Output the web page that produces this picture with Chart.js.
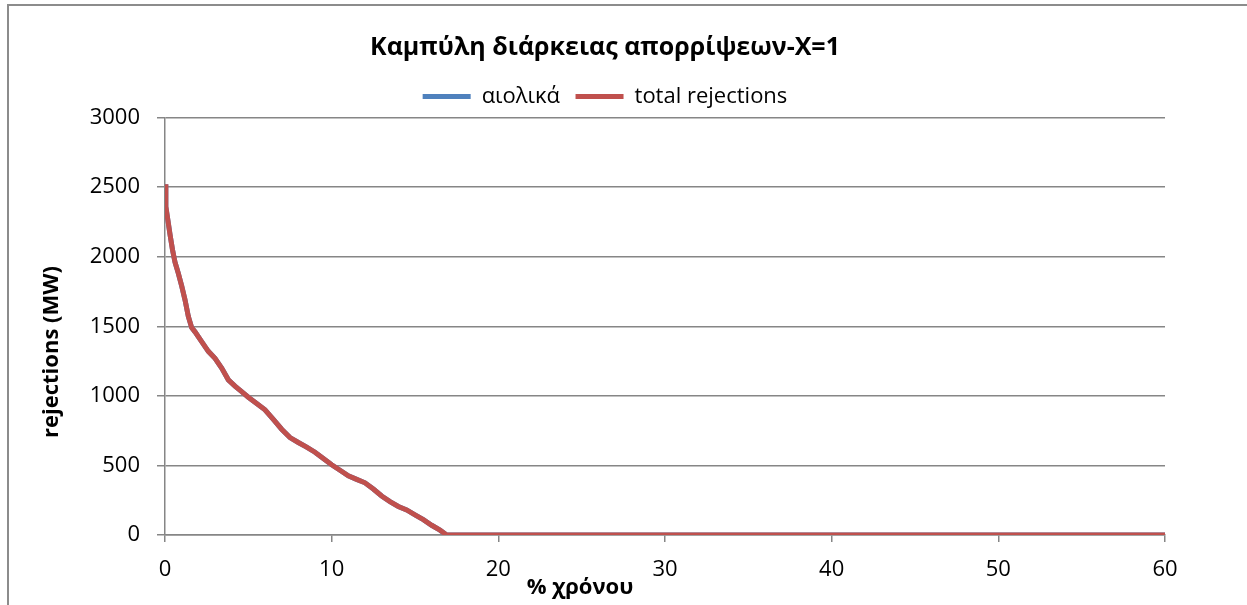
<!DOCTYPE html>
<html>
<head>
<meta charset="utf-8">
<script src="https://cdn.jsdelivr.net/npm/chart.js@4.4.1/dist/chart.umd.min.js"></script>
<style>
  html, body { margin: 0; padding: 0; background: #fff; overflow: hidden; }
  #wrap { position: relative; width: 1247px; height: 605px; }
</style>
</head>
<body>
<div id="wrap"><canvas id="curve" width="1247" height="605"></canvas></div>
<script>
// ----- Duration curve data (% of year vs. MW) -----
const pctTime = [
  0, 0.05, 0.15, 0.3, 0.45, 0.6, 0.8, 1.0, 1.2, 1.4, 1.6, 1.8, 2.2, 2.6, 3.0,
  3.4, 3.8, 4.2, 4.6, 5.0, 5.5, 6.0, 6.5, 7.0, 7.5, 8.0, 8.5, 9.0, 9.5, 10.0,
  10.5, 11.0, 11.5, 12.0, 12.5, 13.0, 13.5, 14.0, 14.5, 15.0, 15.5, 16.0, 16.5,
  16.9, 20, 30, 40, 50, 60
];
const windRejections = [
  2520, 2360, 2280, 2160, 2050, 1960, 1880, 1790, 1690, 1570, 1490, 1460, 1390, 1320, 1270,
  1200, 1115, 1070, 1030, 990, 945, 900, 830, 760, 700, 665, 632, 595, 550, 505,
  465, 425, 400, 375, 330, 280, 240, 205, 180, 145, 110, 70, 35,
  0, 0, 0, 0, 0, 0
];
const totalRejections = [
  2520, 2360, 2280, 2160, 2050, 1960, 1880, 1790, 1690, 1570, 1490, 1460, 1390, 1320, 1270,
  1200, 1115, 1070, 1030, 990, 945, 900, 830, 760, 700, 665, 632, 595, 550, 505,
  465, 425, 400, 375, 330, 280, 240, 205, 180, 145, 110, 70, 35,
  0, 0, 0, 0, 0, 0
];
const seriesNames = ['αιολικά', 'total rejections'];
const titleText = 'Καμπύλη διάρκειας απορρίψεων-X=1';
const xTitle = '% χρόνου';
const yTitle = 'rejections (MW)';

const FONT = "'Open Sans', 'DejaVu Sans', sans-serif";
const GRID = '#868686';

const toPoints = (ys) => ys.map((y, i) => ({ x: pctTime[i], y: y }));

// frame round the chart + hand placed axis titles
const decorations = {
  id: 'decorations',
  beforeDraw(chart) {
    const ctx = chart.ctx;
    ctx.save();
    ctx.strokeStyle = '#8c8c8c';
    ctx.lineWidth = 2;
    ctx.beginPath();
    ctx.moveTo(8, 605);
    ctx.lineTo(8, 5);
    ctx.lineTo(1247, 5);
    ctx.stroke();
    ctx.restore();
  },
  afterDraw(chart) {
    const ctx = chart.ctx;
    ctx.save();
    ctx.fillStyle = '#000';
    ctx.font = 'bold 22px ' + FONT;
    ctx.textAlign = 'center';
    ctx.textBaseline = 'middle';
    ctx.fillText(xTitle, 580, 588);
    ctx.translate(52, 352);
    ctx.rotate(-Math.PI / 2);
    ctx.fillText(yTitle, 0, 0);
    ctx.restore();
  }
};

const ctx = document.getElementById('curve').getContext('2d');
new Chart(ctx, {
  type: 'line',
  data: {
    datasets: [
      {
        label: seriesNames[0],
        data: toPoints(windRejections),
        borderColor: '#4F81BD',
        backgroundColor: '#4F81BD',
        borderWidth: 5,
        pointRadius: 0,
        tension: 0,
        order: 1
      },
      {
        // drawn last so it sits over the wind line
        label: seriesNames[1],
        data: toPoints(totalRejections),
        borderColor: '#C0504D',
        backgroundColor: '#C0504D',
        borderWidth: 5,
        pointRadius: 0,
        tension: 0,
        order: 0
      }
    ]
  },
  options: {
    responsive: false,
    animation: false,
    layout: { padding: { left: 45, right: 82, top: 33, bottom: 0 } },
    plugins: {
      title: {
        display: true,
        text: titleText,
        color: '#000',
        font: { family: FONT, size: 25, weight: 'bold' },
        padding: { top: 0, bottom: 7 }
      },
      legend: {
        display: true,
        labels: {
          color: '#000',
          font: { family: FONT, size: 22 },
          usePointStyle: true,
          pointStyle: 'line',
          pointStyleWidth: 48,
          boxHeight: 4,
          padding: 15.5,
          sort: (a, b) => a.datasetIndex - b.datasetIndex
        }
      },
      tooltip: { enabled: false }
    },
    scales: {
      x: {
        type: 'linear',
        min: 0,
        max: 60,
        afterFit: (scale) => { scale.height = 70; },
        ticks: {
          stepSize: 10,
          color: '#000',
          padding: 15,
          maxRotation: 0,
          font: { family: FONT, size: 22 },
          callback: (v) => String(v)
        },
        grid: {
          drawOnChartArea: false,
          drawTicks: true,
          tickLength: 7,
          color: GRID,
          lineWidth: 1.5
        },
        border: { color: GRID, width: 1.5 }
      },
      y: {
        min: 0,
        max: 3000,
        afterFit: (scale) => { scale.width = 120; },
        ticks: {
          stepSize: 500,
          color: '#000',
          padding: 17,
          font: { family: FONT, size: 22 },
          callback: (v) => String(v)
        },
        grid: {
          color: GRID,
          lineWidth: 1.5,
          tickLength: 8
        },
        border: { color: GRID, width: 1.5 }
      }
    }
  },
  plugins: [decorations]
});
</script>
</body>
</html>
